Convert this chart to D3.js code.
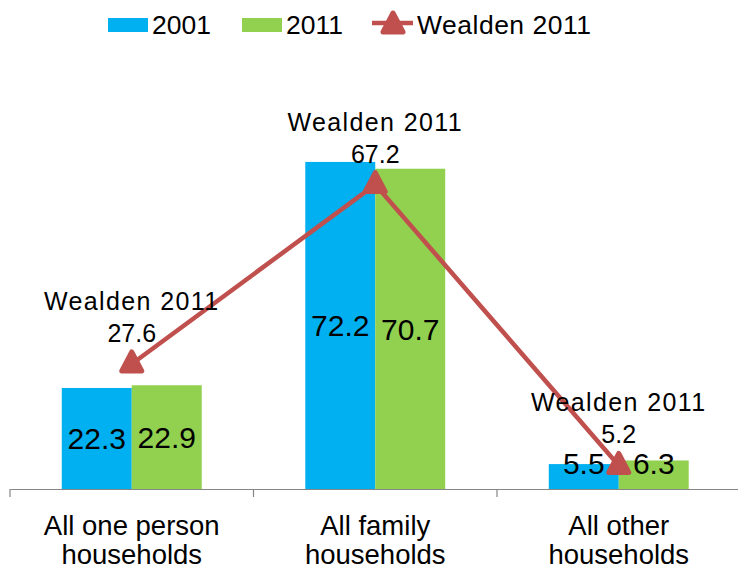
<!DOCTYPE html>
<html>
<head>
<meta charset="utf-8">
<script src="https://cdn.jsdelivr.net/npm/d3@7"></script>
<style>
  body { margin: 0; background: #fff; }
  text { font-family: "Liberation Sans", Arial, sans-serif; fill: #000; }
</style>
</head>
<body>
<div id="chart"></div>
<script>
const categories = [["All one person", "households"], ["All family", "households"], ["All other", "households"]];
const seriesNames = ["2001", "2011"];
const values2001 = [22.3, 72.2, 5.5];
const values2011 = [22.9, 70.7, 6.3];
const wealden2011 = [27.6, 67.2, 5.2];
const lineName = "Wealden 2011";

const W = 738, H = 571;
const colors = {"2001": "#00B0F0", "2011": "#92D050"};
const lineColor = "#C0504D";

const svg = d3.select("#chart")
  .append("svg")
    .attr("width", W)
    .attr("height", H);

const catIdx = categories.map((d, i) => i);
const x = d3.scaleBand()
  .domain(catIdx)
  .range([10, 740.5])
  .padding(0);

const xs = d3.scaleBand()
  .domain(seriesNames)
  .range([0, x.bandwidth()])
  .paddingInner(0)
  .paddingOuter(0.74);

const y = d3.scaleLinear()
  .domain([0, 80])
  .range([489, 126.6]);

// bars
const rows = catIdx.map(i => ({i, "2001": values2001[i], "2011": values2011[i]}));
const groups = svg.selectAll("g.cat")
  .data(rows)
  .enter()
  .append("g")
    .attr("transform", d => `translate(${x(d.i)},0)`);

groups.selectAll("rect")
  .data(d => seriesNames.map(s => ({s, v: d[s]})))
  .enter()
  .append("rect")
    .attr("x", d => xs(d.s))
    .attr("y", d => y(d.v))
    .attr("width", xs.bandwidth())
    .attr("height", d => y(0) - y(d.v))
    .attr("fill", d => colors[d.s]);

// axis
const axis = svg.append("g")
  .attr("transform", `translate(0,${y(0)})`)
  .call(d3.axisBottom(x).tickSize(0).tickFormat(""));
axis.select(".domain").attr("stroke", "#868686").attr("stroke-width", 1.2);
axis.selectAll(".tick").remove();
const tickPos = catIdx.map(i => x(i)).concat([x(catIdx.length - 1) + x.step()]);
axis.selectAll("line.tk")
  .data(tickPos)
  .enter()
  .append("line")
    .attr("x1", d => d).attr("x2", d => d)
    .attr("y1", 0).attr("y2", 8)
    .attr("stroke", "#868686").attr("stroke-width", 1.2);

// category labels
svg.selectAll("text.cat")
  .data(categories)
  .enter()
  .append("text")
    .attr("text-anchor", "middle")
    .attr("font-size", 27.5)
    .attr("x", (d, i) => x(i) + x.bandwidth() / 2)
    .attr("y", 535)
  .selectAll("tspan")
  .data(d => d)
  .enter()
  .append("tspan")
    .attr("x", function() { return this.parentNode.getAttribute("x"); })
    .attr("dy", (d, j) => j ? 29 : 0)
    .text(d => d);

// bar value labels
groups.selectAll("text.val")
  .data(d => seriesNames.map(s => ({s, v: d[s]})))
  .enter()
  .append("text")
    .attr("text-anchor", "middle")
    .attr("font-size", 30)
    .attr("x", d => xs(d.s) + xs.bandwidth() / 2)
    .attr("y", d => Math.min((y(d.v) + y(0)) / 2, y(0) - 26) + 11)
    .text(d => d.v.toFixed(1));

// line
const cx = i => x(i) + x.bandwidth() / 2;
const line = d3.line()
  .x((d, i) => cx(i))
  .y(d => y(d));
svg.append("path")
  .datum(wealden2011)
  .attr("d", line)
  .attr("fill", "none")
  .attr("stroke", lineColor)
  .attr("stroke-width", 4.5);

const tri = "M0,-11L10,8L-10,8Z";
svg.selectAll("path.mk")
  .data(wealden2011)
  .enter()
  .append("path")
    .attr("d", tri)
    .attr("transform", (d, i) => `translate(${cx(i)},${y(d) - 1})`)
    .attr("fill", lineColor)
    .attr("stroke", lineColor)
    .attr("stroke-width", 5)
    .attr("stroke-linejoin", "round");

// line labels
const lbl = svg.selectAll("text.wl")
  .data(wealden2011)
  .enter()
  .append("text")
    .attr("text-anchor", "middle")
    .attr("font-size", 25)
    .attr("letter-spacing", 1.4);
lbl.append("tspan")
  .attr("x", (d, i) => cx(i))
  .attr("y", d => y(d) - 54)
  .text(lineName);
lbl.append("tspan")
  .attr("x", (d, i) => cx(i))
  .attr("y", d => y(d) - 22)
  .attr("letter-spacing", 0)
  .text(d => d.toFixed(1));

// legend
const legend = svg.append("g");
const legendX = [108, 242];
seriesNames.forEach((s, i) => {
  legend.append("rect")
    .attr("x", legendX[i]).attr("y", 18)
    .attr("width", 40).attr("height", 14)
    .attr("fill", colors[s]);
  legend.append("text")
    .attr("x", legendX[i] + 44).attr("y", 34)
    .attr("font-size", 26.5)
    .text(s);
});
legend.append("line")
  .attr("x1", 372).attr("x2", 413)
  .attr("y1", 23).attr("y2", 23)
  .attr("stroke", lineColor).attr("stroke-width", 4.5);
legend.append("path")
  .attr("d", tri)
  .attr("transform", "translate(393,24)")
  .attr("fill", lineColor)
  .attr("stroke", lineColor)
  .attr("stroke-width", 5)
  .attr("stroke-linejoin", "round");
legend.append("text")
  .attr("x", 417).attr("y", 34)
  .attr("font-size", 26.5)
  .attr("letter-spacing", 0.5)
  .text(lineName);
</script>
</body>
</html>
